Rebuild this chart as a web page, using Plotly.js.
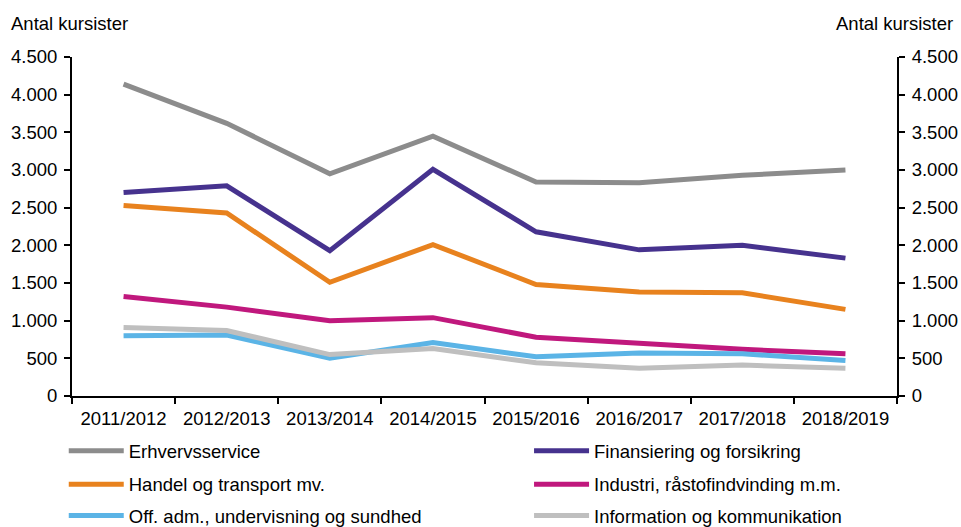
<!DOCTYPE html>
<html>
<head>
<meta charset="utf-8">
<script src="https://cdn.plot.ly/plotly-3.0.1.min.js"></script>
<style>html,body{margin:0;padding:0;background:#fff;}#chart{width:961px;height:527px;}</style>
</head>
<body>
<div id="chart"></div>
<script>
const categories = ["2011/2012","2012/2013","2013/2014","2014/2015","2015/2016","2016/2017","2017/2018","2018/2019"];
const erhvervsservice = [4140, 3620, 2950, 3450, 2840, 2830, 2930, 3000];
const finansiering    = [2700, 2790, 1930, 3010, 2180, 1940, 2000, 1830];
const handel          = [2530, 2430, 1510, 2010, 1480, 1380, 1370, 1150];
const industri        = [1320, 1180, 1000, 1040, 780, 700, 620, 560];
const offAdm          = [800, 810, 500, 710, 520, 570, 560, 470];
const information     = [910, 870, 550, 630, 440, 370, 410, 370];
const seriesNames = ["Erhvervsservice","Finansiering og forsikring","Handel og transport mv.","Industri, råstofindvinding m.m.","Off. adm., undervisning og sundhed","Information og kommunikation"];
const seriesColors = ["#8c8c8c","#46328e","#e8821e","#c0187d","#5bb4e6","#bfbfbf"];
const seriesValues = [erhvervsservice, finansiering, handel, industri, offAdm, information];
const legendIds = ["legend","legend2","legend3","legend4","legend5","legend6"];

const traces = seriesValues.map((v, i) => ({
  x: categories, y: v, type: 'scatter', mode: 'lines', name: seriesNames[i],
  line: {color: seriesColors[i], width: 5}, legend: legendIds[i]
}));

const font = {family: 'Liberation Sans, Arial, sans-serif', size: 18.5, color: '#000'};
const legendBase = {orientation: 'h', xanchor: 'left', yanchor: 'middle', itemwidth: 55, font: {family: font.family, size: 18.5, color: '#000'}, bgcolor: 'rgba(0,0,0,0)', itemclick: false};
const yaxisBase = {range: [0, 4500], dtick: 500, tick0: 0, showgrid: false, zeroline: false, showline: true, linecolor: '#000', linewidth: 2, ticks: 'outside', ticklen: 6, tickwidth: 2, tickcolor: '#000', ticklabelstandoff: 3, separatethousands: true, tickformat: ',d', tickfont: font, fixedrange: true};

const colX = [-0.01, 0.554];
const rowY = [-0.163, -0.2615, -0.354];

const layout = {
  width: 961, height: 527,
  margin: {l: 72, r: 64, t: 57, b: 131, autoexpand: false},
  paper_bgcolor: '#fff', plot_bgcolor: '#fff',
  separators: ',.',
  font: font,
  showlegend: true,
  xaxis: {type: 'category', range: [-0.5, 7.5], tickson: 'boundaries', showgrid: false, zeroline: false, showline: true, linecolor: '#000', linewidth: 2, ticks: 'outside', ticklen: 6, tickwidth: 2, tickcolor: '#000', ticklabelstandoff: 5, tickfont: font, fixedrange: true},
  yaxis: Object.assign({}, yaxisBase, {side: 'left'}),
  yaxis2: Object.assign({}, yaxisBase, {side: 'right', overlaying: 'y', matches: 'y'}),
  annotations: [
    {text: 'Antal kursister', xref: 'paper', yref: 'paper', x: -0.076, y: 1.1, xanchor: 'left', yanchor: 'middle', showarrow: false, font: font},
    {text: 'Antal kursister', xref: 'paper', yref: 'paper', x: 1.07, y: 1.1, xanchor: 'right', yanchor: 'middle', showarrow: false, font: font}
  ]
};
legendIds.forEach((id, i) => {
  layout[id] = Object.assign({}, legendBase, {x: colX[i % 2], y: rowY[Math.floor(i / 2)]});
});
// invisible trace so the right axis renders
traces.push({x: categories, y: erhvervsservice, yaxis: 'y2', type: 'scatter', mode: 'lines', line: {width: 0, color: 'rgba(0,0,0,0)'}, showlegend: false, hoverinfo: 'skip'});

Plotly.newPlot('chart', traces, layout, {staticPlot: true, displayModeBar: false});
</script>
</body>
</html>
